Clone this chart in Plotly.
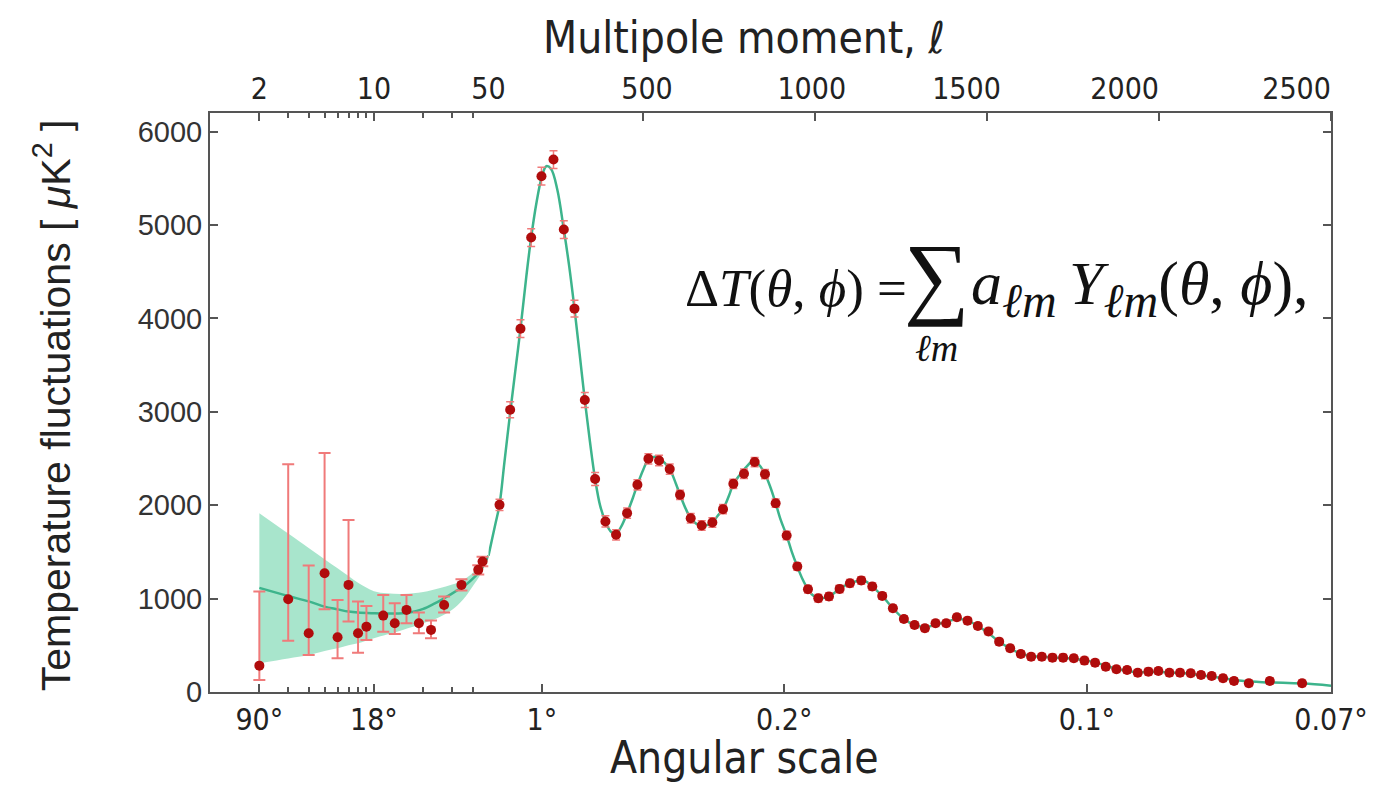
import numpy as np
import plotly.graph_objects as go

# ---------------- data ----------------
ELL_SPLIT = 50      # axis switches from log to linear at this multipole
ELL_MIN = 1
ELL_MAX = 2500
Y_MAX = 6200

# low-ell measurements (log part of the axis)
low_ell = [2, 3, 4, 5, 6, 7, 8, 9, 11.4, 13.4, 15.8, 18.8, 22.3, 26.8, 34.2, 43.3, 46]
low_D = [282, 993, 629, 1272, 586, 1147, 629, 700, 818, 736, 879, 736, 665, 932, 1147, 1308, 1397]
low_err_plus = [793, 1447, 725, 1286, 400, 696, 339, 222, 222, 214, 161, 114, 100, 90, 60, 50, 50]
low_err_minus = [153, 443, 232, 386, 225, 393, 208, 143, 172, 115, 143, 107, 90, 82, 60, 50, 50]

# high-ell binned measurements (linear part of the axis)
high_ell = [82, 113, 143, 174, 204, 239, 269, 300, 330, 360,
            390, 421, 453, 483, 515, 546, 577, 607, 638, 670,
            701, 732, 762, 793, 824, 854, 885, 917, 948, 979,
            1009, 1040, 1071, 1101, 1134, 1166, 1195, 1226, 1258, 1289,
            1319, 1350, 1381, 1412, 1443, 1473, 1504, 1535, 1567, 1598,
            1628, 1659, 1690, 1721, 1752, 1783, 1814, 1845, 1876, 1907,
            1938, 1969, 1998, 2030, 2061, 2092, 2122, 2153, 2186, 2218,
            2261, 2322, 2416]
high_D = [2004, 3022, 3890, 4866, 5523, 5702, 4952, 4105, 3126, 2280,
          1826, 1683, 1915, 2219, 2497, 2479, 2387, 2111, 1861, 1783,
          1815, 1958, 2229, 2337, 2462, 2333, 2022, 1675, 1343, 1101,
          1004, 1022, 1104, 1165, 1195, 1129, 1029, 897, 782, 718,
          683, 736, 736, 800, 764, 707, 647, 539, 468, 407,
          378, 378, 368, 368, 361, 336, 314, 271, 243, 236,
          207, 218, 225, 207, 207, 200, 182, 172, 147, 118,
          93, 118, 93]
high_err = [60, 85, 95, 95, 95, 95, 95, 90, 80, 70,
            60, 55, 55, 55, 55, 55, 55, 50, 50, 50,
            50, 50, 50, 50, 50, 50, 45, 45, 40, 40,
            40, 40, 40, 40, 40, 40, 35, 35, 35, 35,
            35, 35, 35, 35, 35, 35, 35, 35, 35, 35,
            35, 35, 35, 35, 35, 35, 35, 35, 35, 35,
            35, 35, 35, 35, 35, 35, 35, 35, 35, 35,
            35, 35, 35]

# best-fit model curve
theory_lo_ell = [2, 3, 4, 5, 6, 7, 8, 10, 12, 15, 18, 20, 23, 26, 29, 33, 37, 41, 45, 50]
theory_lo_D = [1115, 1028, 970, 914, 885, 861, 850, 843, 840, 843, 865, 890, 940, 990,
               1040, 1100, 1160, 1230, 1310, 1460]
theory_hi_ell = [50, 62, 70, 82, 96, 114, 130, 143, 160, 174, 190, 204, 218, 232, 250,
                 269, 285, 300, 315, 330, 345, 360, 375, 390, 405, 420, 437, 453, 470,
                 483, 500, 515, 535, 555, 577, 595, 607, 625, 638, 655, 675, 701, 715,
                 732, 750, 762, 780, 800, 818, 835, 854, 870, 885, 900, 917, 932, 948,
                 963, 979, 995, 1015, 1040, 1071, 1101, 1134, 1150, 1166, 1195, 1226,
                 1258, 1289, 1320, 1350, 1380, 1410, 1443, 1473, 1504, 1535, 1567, 1598,
                 1630, 1690, 1750, 1810, 1870, 1930, 2000, 2060, 2120, 2180, 2240, 2300,
                 2360, 2420, 2500]
theory_hi_D = [1460, 1665, 1800, 2004, 2451, 3022, 3500, 3890, 4450, 4866, 5250, 5500,
               5630, 5600, 5380, 4952, 4550, 4105, 3620, 3126, 2680, 2280, 1990, 1826,
               1720, 1690, 1780, 1915, 2080, 2219, 2380, 2490, 2520, 2480, 2387, 2230,
               2111, 1950, 1861, 1800, 1780, 1815, 1880, 1958, 2110, 2229, 2320, 2410,
               2470, 2440, 2333, 2190, 2022, 1840, 1675, 1500, 1343, 1210, 1101, 1030,
               1005, 1022, 1104, 1165, 1195, 1180, 1129, 1029, 897, 782, 718, 695, 720,
               750, 780, 764, 707, 630, 539, 468, 410, 385, 370, 355, 320, 255, 215, 215,
               205, 180, 150, 120, 105, 100, 90, 68]

# cosmic-variance band (low ell)
band_ell = [2, 3, 4, 5, 6, 7, 8, 10, 12, 15, 20, 25, 30, 35, 40, 45, 50]
band_hi = [1915, 1697, 1542, 1421, 1324, 1241, 1169, 1080, 1058, 1050, 1070, 1110,
           1150, 1200, 1275, 1360, 1480]
band_lo = [307, 360, 397, 440, 468, 500, 522, 575, 615, 665, 736, 800, 880, 990,
           1130, 1270, 1440]

# tick marks and labels
top_log_ticks = [2, 10, 50]
top_lin_ticks = [500, 1000, 1500, 2000, 2500]
top_lin_label_at = [511, 990, 1440, 1900, 2400]   # where the labels sit in the picture
top_lin_text = ["500", "1000", "1500", "2000", "2500"]
log_minor = [3, 4, 5, 6, 7, 8, 9, 20, 30, 40]
angle_log_ell = [2, 10]
angle_log_text = ["90°", "18°"]
angle_lin_ell = [205, 910, 1790, 2500]
angle_lin_text = ["1°", "0.2°", "0.1°", "0.07°"]
y_ticks = [0, 1000, 2000, 3000, 4000, 5000, 6000]

# ---------------- styling ----------------
LINE_C = "#3db48c"
BAND_C = "rgba(110,212,170,0.60)"
PT_C = "#b00c0c"
ERR_C = "#f07a7a"
AX_C = "#555555"
XFONT = dict(family="DejaVu Sans Condensed, Liberation Sans Narrow, DejaVu Sans", size=30, color="#222")
YFONT = dict(family="Liberation Sans, Arial", size=29, color="#333")

W, H = 1380, 788
ML, MR, MT, MB = 210, 47, 113, 96
pw = W - ML - MR
ph = H - MT - MB
split = 279 / pw  # fraction of width taken by log part

fig = go.Figure()

# band
fig.add_trace(go.Scatter(x=band_ell, y=band_hi, xaxis="x", yaxis="y", mode="lines",
                         line=dict(width=0, shape="spline"), hoverinfo="skip", showlegend=False))
fig.add_trace(go.Scatter(x=band_ell, y=band_lo, xaxis="x", yaxis="y", mode="lines",
                         line=dict(width=0, shape="spline"), fill="tonexty", fillcolor=BAND_C,
                         hoverinfo="skip", showlegend=False))
# model curve
fig.add_trace(go.Scatter(x=theory_lo_ell, y=theory_lo_D, xaxis="x", yaxis="y", mode="lines",
                         line=dict(color=LINE_C, width=2.5, shape="spline"), showlegend=False))
fig.add_trace(go.Scatter(x=theory_hi_ell, y=theory_hi_D, xaxis="x2", yaxis="y", mode="lines",
                         line=dict(color=LINE_C, width=2.5, shape="spline"), showlegend=False))
# data
fig.add_trace(go.Scatter(x=low_ell, y=low_D, xaxis="x", yaxis="y", mode="markers",
                         marker=dict(color=PT_C, size=10),
                         error_y=dict(type="data", symmetric=False, array=low_err_plus,
                                      arrayminus=low_err_minus, color=ERR_C, thickness=2, width=6),
                         showlegend=False))
fig.add_trace(go.Scatter(x=high_ell, y=high_D, xaxis="x2", yaxis="y", mode="markers",
                         marker=dict(color=PT_C, size=10),
                         error_y=dict(type="data", array=high_err, color=ERR_C, thickness=1.5, width=4),
                         showlegend=False))
# empty helper traces so the top and right axes get drawn
fig.add_trace(go.Scatter(x=top_log_ticks, y=[None] * len(top_log_ticks), xaxis="x3", yaxis="y",
                         mode="markers", hoverinfo="skip", showlegend=False))
fig.add_trace(go.Scatter(x=top_lin_ticks, y=[None] * len(top_lin_ticks), xaxis="x4", yaxis="y2",
                         mode="markers", hoverinfo="skip", showlegend=False))

common_x = dict(showgrid=False, zeroline=False, showline=True, linecolor=AX_C, linewidth=2,
                ticklen=8, tickwidth=1.5, tickcolor=AX_C, tickfont=XFONT)

fig.update_layout(
    width=W, height=H, margin=dict(l=ML, r=MR, t=MT, b=MB),
    paper_bgcolor="white", plot_bgcolor="white",
    xaxis=dict(type="log", domain=[0, split], range=[np.log10(ELL_MIN), np.log10(ELL_SPLIT)],
               anchor="y", side="bottom", tickmode="array", tickvals=angle_log_ell,
               ticktext=angle_log_text, ticks="inside",
               minor=dict(tickvals=log_minor, ticks="inside", ticklen=5, tickcolor=AX_C),
               **common_x),
    xaxis2=dict(type="linear", domain=[split, 1], range=[ELL_SPLIT, ELL_MAX], anchor="y",
                side="bottom", tickmode="array", tickvals=angle_lin_ell, ticktext=angle_lin_text,
                ticks="inside", **common_x),
    xaxis3=dict(type="log", overlaying="x", range=[np.log10(ELL_MIN), np.log10(ELL_SPLIT)],
                anchor="y", side="top", tickmode="array", tickvals=top_log_ticks,
                ticktext=[str(v) for v in top_log_ticks], ticks="inside",
                minor=dict(tickvals=log_minor, ticks="inside", ticklen=5, tickcolor=AX_C),
                **common_x),
    xaxis4=dict(type="linear", overlaying="x2", range=[ELL_SPLIT, ELL_MAX], anchor="y",
                side="top", tickmode="array", tickvals=top_lin_label_at,
                ticktext=top_lin_text, ticks="",
                minor=dict(tickvals=top_lin_ticks, ticks="inside", ticklen=8, tickcolor=AX_C,
                           tickwidth=1.5),
                **common_x),
    yaxis=dict(range=[0, Y_MAX], anchor="x", side="left", tickmode="array", tickvals=y_ticks,
               showgrid=False, zeroline=False, showline=True, linecolor=AX_C, linewidth=2,
               ticks="inside", ticklen=8, tickwidth=1.5, tickcolor=AX_C, tickfont=YFONT),
    yaxis2=dict(range=[0, Y_MAX], overlaying="y", anchor="x2", side="right", tickmode="array",
                tickvals=y_ticks, showticklabels=False, showgrid=False, zeroline=False,
                showline=True, linecolor=AX_C, linewidth=2, ticks="inside", ticklen=8,
                tickwidth=1.5, tickcolor=AX_C),
)

def px_x(p):
    return (p - ML) / pw

def px_y(p):
    return (H - MB - p) / ph

TITLE_FONT = dict(family="DejaVu Sans Condensed, Liberation Sans Narrow, DejaVu Sans", size=44, color="#222")
SERIF = "Liberation Serif, DejaVu Serif, serif"

fig.add_annotation(text="Multipole moment, <i>ℓ</i>", xref="paper", yref="paper",
                   x=px_x(745), y=px_y(38), showarrow=False, font=TITLE_FONT,
                   xanchor="center", yanchor="middle")
fig.add_annotation(text="Angular scale", xref="paper", yref="paper",
                   x=px_x(745), y=px_y(757), showarrow=False, font=TITLE_FONT,
                   xanchor="center", yanchor="middle")
fig.add_annotation(text="Temperature fluctuations [ <i>μ</i>K<sup>2</sup> ]", xref="paper", yref="paper",
                   x=px_x(52), y=px_y(405), showarrow=False, textangle=-90,
                   font=dict(family="Liberation Sans, Arial", size=41, color="#222"),
                   xanchor="center", yanchor="middle")

# formula, in pieces
fig.add_annotation(text="Δ<i>T</i>(<i>θ</i>, <i>ϕ</i>) =", xref="paper", yref="paper",
                   x=px_x(684), y=px_y(288), showarrow=False,
                   font=dict(family=SERIF, size=53, color="#111"), xanchor="left", yanchor="middle")
fig.add_annotation(text="∑", xref="paper", yref="paper",
                   x=px_x(938), y=px_y(276), showarrow=False,
                   font=dict(family=SERIF, size=92, color="#111"), xanchor="center", yanchor="middle")
fig.add_annotation(text="<i>ℓm</i>", xref="paper", yref="paper", x=px_x(938), y=px_y(348),
                   showarrow=False, font=dict(family=SERIF, size=38, color="#111"),
                   xanchor="center", yanchor="middle")
SUB = "<sub><span style='font-size:48px'><i>ℓm</i></span></sub>"
fig.add_annotation(text="<i>a</i>" + SUB + "\u2009<i>Y</i>" + SUB + "(<i>θ</i>, <i>ϕ</i>),",
                   xref="paper", yref="paper", x=px_x(970), y=px_y(288), showarrow=False,
                   font=dict(family=SERIF, size=62, color="#111"), xanchor="left", yanchor="middle")

fig.write_html("out.html")
